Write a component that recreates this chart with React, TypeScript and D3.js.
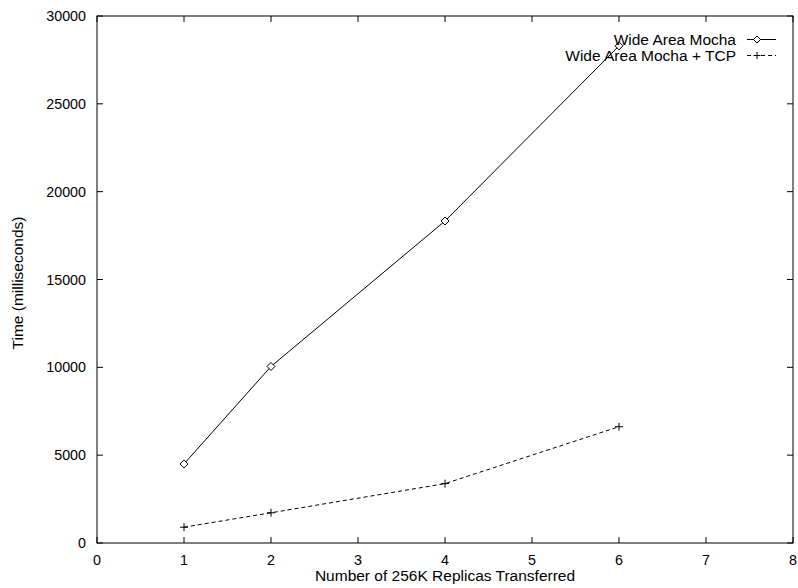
import React from 'react';
import * as d3 from 'd3';

const replicas = [1, 2, 4, 6];
const mochaTimes = [4500, 10050, 18330, 28300];
const mochaTcpTimes = [900, 1720, 3380, 6620];
const xTicks = [0, 1, 2, 3, 4, 5, 6, 7, 8];
const yTicks = [0, 5000, 10000, 15000, 20000, 25000, 30000];
const seriesNames = ['Wide Area Mocha', 'Wide Area Mocha + TCP'];

const W = 798;
const H = 588;
const left = 97;
const right = 793;
const top = 16;
const bottom = 543;
const tick = 6;
const font = 'Liberation Sans, Arial, Helvetica, sans-serif';
const numSize = 14.3;
const textSize = 15.5;

const App = () => {
    const x = d3.scaleLinear().domain([0, 8]).range([left, right]);
    const y = d3.scaleLinear().domain([0, 30000]).range([bottom, top]);

    const line = d3.line<number>()
        .x((d, i) => x(replicas[i]))
        .y(d => y(d));

    const diamond = (cx: number, cy: number, r = 4) =>
        `M${cx},${cy - r}L${cx + r},${cy}L${cx},${cy + r}L${cx - r},${cy}Z`;
    const plus = (cx: number, cy: number, r = 4) =>
        `M${cx - r},${cy}H${cx + r}M${cx},${cy - r}V${cy + r}`;

    return (
        <svg width={W} height={H} style={{ position: 'absolute', left: 0, top: 0, background: '#fff' }}
            fontFamily={font}>
            <rect x={left} y={top} width={right - left} height={bottom - top} fill="none" stroke="#000" strokeWidth={1} />
            {xTicks.map(t => (
                <g key={'x' + t}>
                    <line x1={x(t)} x2={x(t)} y1={bottom} y2={bottom - tick} stroke="#000" />
                    <line x1={x(t)} x2={x(t)} y1={top} y2={top + tick} stroke="#000" />
                    <text x={x(t)} y={bottom + 22} textAnchor="middle" fontSize={numSize}>{t}</text>
                </g>
            ))}
            {yTicks.map(t => (
                <g key={'y' + t}>
                    <line x1={left} x2={left + tick} y1={y(t)} y2={y(t)} stroke="#000" />
                    <line x1={right} x2={right - tick} y1={y(t)} y2={y(t)} stroke="#000" />
                    <text x={left - 11} y={y(t) + 5} textAnchor="end" fontSize={numSize}>{t}</text>
                </g>
            ))}
            <text x={(left + right) / 2} y={581} textAnchor="middle" fontSize={textSize}>Number of 256K Replicas Transferred</text>
            <text transform={`translate(23,283) rotate(-90)`} textAnchor="middle" fontSize={textSize}>Time (milliseconds)</text>

            <path d={line(mochaTimes) || ''} fill="none" stroke="#000" strokeWidth={1} />
            {mochaTimes.map((v, i) => (
                <path key={'m' + i} d={diamond(x(replicas[i]), y(v))} fill="#fff" stroke="#000" />
            ))}
            <path d={line(mochaTcpTimes) || ''} fill="none" stroke="#000" strokeWidth={1} strokeDasharray="4,3" />
            {mochaTcpTimes.map((v, i) => (
                <path key={'t' + i} d={plus(x(replicas[i]), y(v))} fill="none" stroke="#000" />
            ))}

            <g fontSize={textSize}>
                <text x={736} y={44.5} textAnchor="end">{seriesNames[0]}</text>
                <line x1={747} x2={776} y1={39.5} y2={39.5} stroke="#000" />
                <path d={diamond(757, 39.5, 3.5)} fill="#fff" stroke="#000" />
                <text x={736} y={60.5} textAnchor="end">{seriesNames[1]}</text>
                <line x1={747} x2={776} y1={55.5} y2={55.5} stroke="#000" strokeDasharray="4,3" />
                <path d={plus(757, 55.5, 3.5)} fill="none" stroke="#000" />
            </g>
        </svg>
    );
};

export default App;
